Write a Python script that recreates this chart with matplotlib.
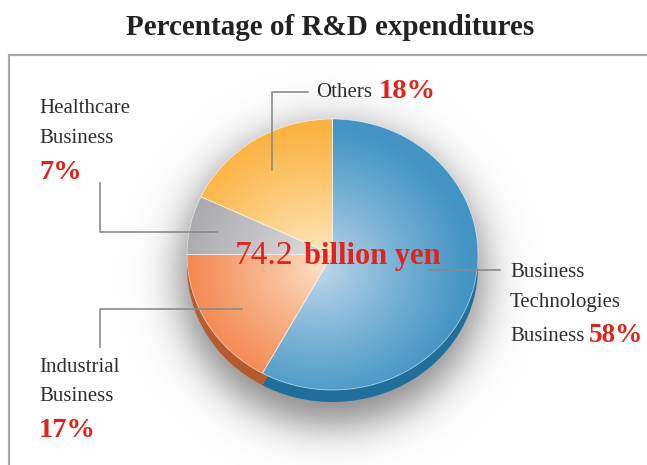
import numpy as np
import matplotlib
matplotlib.use("Agg")
import matplotlib.pyplot as plt
from matplotlib.colors import LinearSegmentedColormap

# Data
segments = ["Business Technologies Business", "Industrial Business", "Healthcare Business", "Others"]
shares = [58, 17, 7, 18]
total_text = ("74.2", "billion yen")

# colours: outer (saturated), inner (highlight), side (3D edge)
outer_cols = ["#4294c4", "#f27c40", "#a5a5aa", "#fbb240"]
inner_cols = ["#c4dbec", "#fde0c6", "#e4e4e6", "#fff0d2"]
side_cols = ["#1f6f9a", "#b65b2b", "#77777a", "#c98a2a"]

RED = "#e2231a"
TXT = "#2e2e2e"
LEAD = "#8a8a8a"
SERIF = "Liberation Serif"

W, H = 647, 465
fig = plt.figure(figsize=(W / 100, H / 100), dpi=100)

# background axes in pixel coordinates
bg = fig.add_axes([0, 0, 1, 1])
bg.set_xlim(0, W)
bg.set_ylim(H, 0)
bg.axis("off")

# frame (left + top only)
bg.plot([9, 9, W + 5], [H + 5, 55, 55], color="#a8a8a8", lw=1.6, solid_joinstyle="miter")

# pie geometry (pixels)
cx, cy, rx, ry = 332.5, 254.5, 145.5, 135.5
depth = 12

# soft drop shadow
xs = np.arange(0, W)
ys = np.arange(0, H)
X, Y = np.meshgrid(xs, ys)
rn = np.sqrt(((X - 331) / 151.0) ** 2 + ((Y - 276) / 148.0) ** 2)
alpha = 0.6 / (1 + np.exp((rn - 1.0) * 12))
shadow = np.zeros((H, W, 4))
shadow[..., 0:3] = 0.22
shadow[..., 3] = alpha
bg.imshow(shadow, extent=(0, W, H, 0), zorder=1)


def pie_axes(offset):
    ax = fig.add_axes([(cx - rx) / W, 1 - (cy + ry + offset) / H, 2 * rx / W, 2 * ry / H])
    return ax


# side (3D thickness)
ax_side = pie_axes(depth)
ax_side.pie(shares, startangle=90, counterclock=False, colors=side_cols,
            radius=1.0, wedgeprops=dict(linewidth=0))
ax_side.set_aspect("auto")
ax_side.set_xlim(-1, 1)
ax_side.set_ylim(-1, 1)
ax_side.axis("off")

# top face
ax = pie_axes(0)
wedges, _ = ax.pie(shares, startangle=90, counterclock=False, colors=outer_cols,
                   radius=1.0, wedgeprops=dict(linewidth=0.6, edgecolor=(1, 1, 1, 0.6)))
ax.set_aspect("auto")
ax.set_xlim(-1, 1)
ax.set_ylim(-1, 1)
ax.axis("off")

g = np.linspace(-1, 1, 400)
GX, GY = np.meshgrid(g, g[::-1])
R = np.sqrt((GX + 0.1) ** 2 + (GY + 0.1) ** 2)
T = np.clip(R / 1.05, 0, 1) ** 0.85
for w, c_in, c_out in zip(wedges, inner_cols, outer_cols):
    cmap = LinearSegmentedColormap.from_list("grad", [c_in, c_out])
    im = ax.imshow(T, cmap=cmap, vmin=0, vmax=1, extent=(-1, 1, -1, 1),
                   aspect="auto", zorder=1.5, interpolation="bilinear")
    im.set_clip_path(w)
    w.set_facecolor("none")
    w.set_zorder(2)
ax.set_xlim(-1, 1)
ax.set_ylim(-1, 1)

# overlay axes for text on top of the pie
top = fig.add_axes([0, 0, 1, 1])
top.set_xlim(0, W)
top.set_ylim(H, 0)
top.axis("off")

# title
top.text(330, 35, "Percentage of R&D expenditures", ha="center", va="baseline",
         fontsize=21, fontweight="bold", family=SERIF, color="#222222")

lab = dict(family=SERIF, color=TXT, fontsize=15, va="baseline")
pct = dict(family=SERIF, color=RED, fontsize=20.5, fontweight="bold", va="baseline")
lead = dict(color=LEAD, lw=1.2)

# Healthcare
top.text(39, 113, "Healthcare", **lab)
top.text(39, 143, "Business", **lab)
top.text(39, 179, f"{shares[2]}%", **pct)
top.plot([100, 100, 217], [183, 232, 232], **lead)

# Industrial
top.plot([242, 100, 100], [309, 309, 347], **lead)
top.text(39, 372, "Industrial", **lab)
top.text(39, 401, "Business", **lab)
top.text(39, 437, f"{shares[1]}%", **pct)

# Others
top.plot([272, 272, 308], [170, 92, 92], **lead)
top.text(316, 97, "Others", **lab)
top.text(379, 98, f"{shares[3]}%", **pct)

# Business Technologies
top.plot([429, 500], [270, 270], **lead)
top.text(510, 277, "Business", **lab)
top.text(510, 307, "Technologies", **lab)
top.text(510, 341, "Business", **lab)
top.text(589, 342, f"{shares[0]}%", family=SERIF, color=RED, fontsize=19.5,
         fontweight="bold", va="baseline")

# centre total
top.text(293, 264, total_text[0], ha="right", va="baseline", family=SERIF,
         fontsize=24, color=RED)
top.text(304, 264, total_text[1], ha="left", va="baseline", family=SERIF,
         fontsize=22, fontweight="bold", color=RED)

fig.savefig("out.png", dpi=100)
